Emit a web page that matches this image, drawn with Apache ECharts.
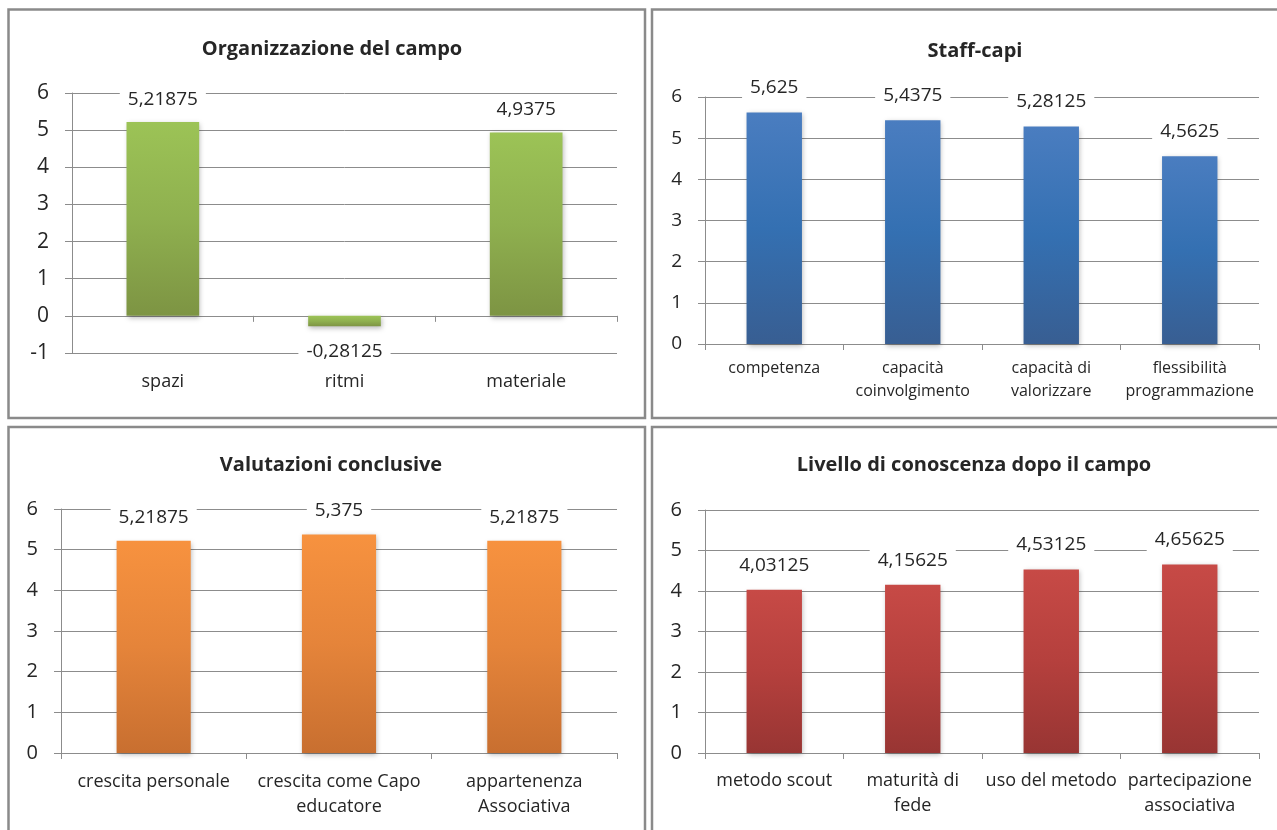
<!DOCTYPE html>
<html><head><meta charset="utf-8">
<script src="https://cdn.jsdelivr.net/npm/echarts@6/dist/echarts.min.js"></script>
<style>html,body{margin:0;padding:0;background:#fff}#c{width:1277px;height:830px}</style>
</head><body><div id="c"></div>
<script>
// ---- data ----
const title1 = 'Organizzazione del campo';
const cats1 = ['spazi', 'ritmi', 'materiale'];
const vals1 = [5.21875, -0.28125, 4.9375];
const yRange1 = [-1, 6];

const title2 = 'Staff-capi';
const cats2 = ['competenza', 'capacità\ncoinvolgimento', 'capacità di\nvalorizzare', 'flessibilità\nprogrammazione'];
const vals2 = [5.625, 5.4375, 5.28125, 4.5625];
const yRange2 = [0, 6];

const title3 = 'Valutazioni conclusive';
const cats3 = ['crescita personale', 'crescita come Capo\neducatore', 'appartenenza\nAssociativa'];
const vals3 = [5.21875, 5.375, 5.21875];
const yRange3 = [0, 6];

const title4 = 'Livello di conoscenza dopo il campo';
const cats4 = ['metodo scout', 'maturità di\nfede', 'uso del metodo', 'partecipazione\nassociativa'];
const vals4 = [4.03125, 4.15625, 4.53125, 4.65625];
const yRange4 = [0, 6];

// ---- styling / layout ----
const FONT = 'Open Sans';
const GRAY = '#8c8c8c';
const TXT = '#262626';
const grad = (stops) => new echarts.graphic.LinearGradient(0, 0, 0, 1, stops.map((c, i) => ({offset: i / (stops.length - 1), color: c})));
const colors = [
  ['#9cc356', '#8fb04f', '#7d9443'],
  ['#4a7dc0', '#3470b2', '#385e92'],
  ['#f7923f', '#e5843a', '#c86f30'],
  ['#c74a46', '#b5403d', '#983533']
];
const panels = [
  {title: title1, cats: cats1, vals: vals1, yr: yRange1, grid: {left: 72, top: 93, width: 545, height: 260}, tx: 327, ty: 34, yFont: 21, xFont: 18, xMargin: 16, xLH: 25, lblFont: 19, lblDist: 11},
  {title: title2, cats: cats2, vals: vals2, yr: yRange2, grid: {left: 705, top: 97, width: 554, height: 247}, tx: 970, ty: 36, yFont: 19, xFont: 16, xMargin: 13, xLH: 23, lblFont: 19, lblDist: 13},
  {title: title3, cats: cats3, vals: vals3, yr: yRange3, grid: {left: 61, top: 509, width: 556, height: 244}, tx: 326, ty: 450, yFont: 20, xFont: 18, xMargin: 16, xLH: 25, lblFont: 19, lblDist: 12},
  {title: title4, cats: cats4, vals: vals4, yr: yRange4, grid: {left: 705, top: 510, width: 554, height: 243}, tx: 969, ty: 450, yFont: 20, xFont: 18, xMargin: 15, xLH: 25, lblFont: 19, lblDist: 13}
];
const fmt = v => String(v).replace('.', ',');

const option = {
  animation: false,
  backgroundColor: '#fff',
  title: panels.map(p => ({
    text: p.title, left: p.tx, top: p.ty, textAlign: 'center',
    textStyle: {fontFamily: FONT, fontWeight: 'bold', fontSize: 20, color: TXT}
  })),
  grid: panels.map(p => Object.assign({containLabel: false}, p.grid)),
  xAxis: panels.map((p, i) => ({
    type: 'category', gridIndex: i, data: p.cats,
    axisLine: {onZero: true, lineStyle: {color: GRAY, width: 1}},
    axisTick: {show: true, length: 6, interval: 0, lineStyle: {color: GRAY}},
    axisLabel: {interval: 0, margin: p.xMargin, fontFamily: FONT, fontSize: p.xFont, lineHeight: p.xLH, color: TXT}
  })),
  yAxis: panels.map((p, i) => ({
    type: 'value', gridIndex: i, min: p.yr[0], max: p.yr[1], interval: 1,
    axisLine: {show: true, lineStyle: {color: GRAY, width: 1}},
    axisTick: {show: true, length: 7, lineStyle: {color: GRAY}},
    splitLine: {show: true, lineStyle: {color: GRAY, width: 1}},
    axisLabel: {margin: 23, fontFamily: FONT, fontSize: p.yFont, color: TXT}
  })),
  series: panels.map((p, i) => ({
    type: 'bar', xAxisIndex: i, yAxisIndex: i, barWidth: '40%',
    data: p.vals.map(v => v < 0 ? {value: v, label: {position: 'bottom', distance: 14}} : v),
    itemStyle: {color: grad(colors[i]), shadowColor: 'rgba(0,0,0,0.28)', shadowBlur: 5, shadowOffsetX: 1, shadowOffsetY: 2},
    label: {
      show: true, position: 'top', distance: p.lblDist, formatter: q => fmt(q.value),
      fontFamily: FONT, fontSize: p.lblFont, color: TXT, backgroundColor: '#fff', padding: [2, 8]
    }
  })),
  graphic: [
    {type: 'rect', shape: {x: 8.5, y: 9.5, width: 636.5, height: 408.5}, style: {fill: null, stroke: '#8a8a8a', lineWidth: 2.5}, z: 100},
    {type: 'rect', shape: {x: 652, y: 9.5, width: 640, height: 408.5}, style: {fill: null, stroke: '#8a8a8a', lineWidth: 2.5}, z: 100},
    {type: 'rect', shape: {x: 8.5, y: 427, width: 636.5, height: 420}, style: {fill: null, stroke: '#8a8a8a', lineWidth: 2.5}, z: 100},
    {type: 'rect', shape: {x: 652, y: 427, width: 640, height: 420}, style: {fill: null, stroke: '#8a8a8a', lineWidth: 2.5}, z: 100}
  ]
};
const chart = echarts.init(document.getElementById('c'), null, {renderer: 'canvas'});
chart.setOption(option);
</script>
</body></html>
